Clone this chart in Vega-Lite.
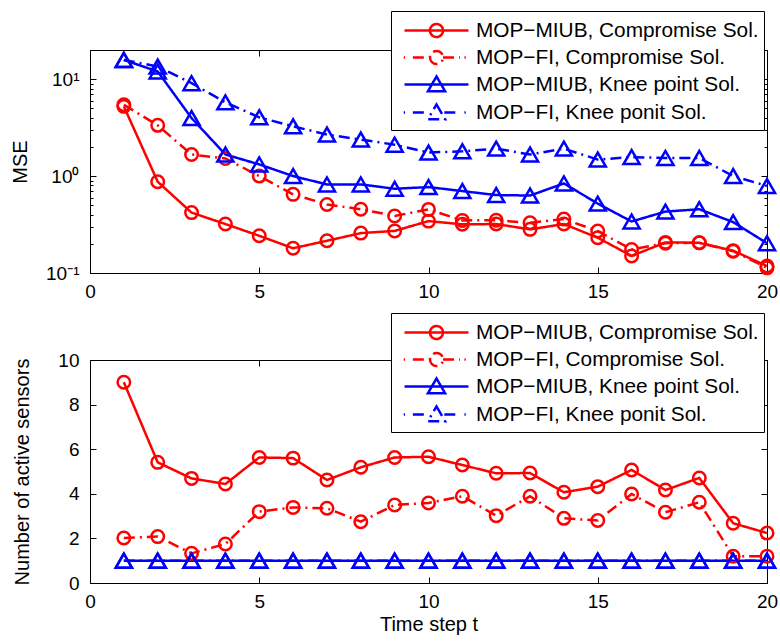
{
  "$schema": "https://vega.github.io/schema/vega-lite/v6.json",
  "padding": {"left": 10, "top": 10, "right": 5, "bottom": 5},
  "background": "white",
  "config": {
    "font": "Liberation Sans",
    "view": {"stroke": "black", "strokeWidth": 1},
    "axis": {"domain": false, "grid": false, "tickColor": "black", "labelColor": "black", "titleColor": "black", "labelFontSize": 19, "titleFontSize": 20, "titleFontWeight": "normal", "tickSize": -6, "tickWidth": 1, "labelFlush": false, "labelOverlap": false, "labelFont": "Liberation Sans", "titleFont": "Liberation Sans"},
    "legend": {"labelFont": "Liberation Sans", "labelFontSize": 20.8, "labelColor": "black", "strokeColor": "black", "fillColor": "white", "padding": 5, "rowPadding": 1, "symbolSize": 676, "symbolStrokeWidth": 2.5, "symbolOffset": 26, "labelOffset": 25, "labelLimit": 400, "cornerRadius": 0}
  },
  "datasets": {
    "d": [
      {"t":1,"s":"MOP−MIUB, Compromise Sol.","mse":5.24,"n":9.0},
      {"t":2,"s":"MOP−MIUB, Compromise Sol.","mse":0.875,"n":5.41},
      {"t":3,"s":"MOP−MIUB, Compromise Sol.","mse":0.42,"n":4.69},
      {"t":4,"s":"MOP−MIUB, Compromise Sol.","mse":0.32,"n":4.44},
      {"t":5,"s":"MOP−MIUB, Compromise Sol.","mse":0.242,"n":5.63},
      {"t":6,"s":"MOP−MIUB, Compromise Sol.","mse":0.18,"n":5.6},
      {"t":7,"s":"MOP−MIUB, Compromise Sol.","mse":0.215,"n":4.62},
      {"t":8,"s":"MOP−MIUB, Compromise Sol.","mse":0.258,"n":5.19},
      {"t":9,"s":"MOP−MIUB, Compromise Sol.","mse":0.272,"n":5.63},
      {"t":10,"s":"MOP−MIUB, Compromise Sol.","mse":0.343,"n":5.66},
      {"t":11,"s":"MOP−MIUB, Compromise Sol.","mse":0.318,"n":5.29},
      {"t":12,"s":"MOP−MIUB, Compromise Sol.","mse":0.32,"n":4.92},
      {"t":13,"s":"MOP−MIUB, Compromise Sol.","mse":0.282,"n":4.93},
      {"t":14,"s":"MOP−MIUB, Compromise Sol.","mse":0.32,"n":4.07},
      {"t":15,"s":"MOP−MIUB, Compromise Sol.","mse":0.231,"n":4.32},
      {"t":16,"s":"MOP−MIUB, Compromise Sol.","mse":0.15,"n":5.07},
      {"t":17,"s":"MOP−MIUB, Compromise Sol.","mse":0.207,"n":4.17},
      {"t":18,"s":"MOP−MIUB, Compromise Sol.","mse":0.205,"n":4.71},
      {"t":19,"s":"MOP−MIUB, Compromise Sol.","mse":0.17,"n":2.68},
      {"t":20,"s":"MOP−MIUB, Compromise Sol.","mse":0.118,"n":2.24},
      {"t":1,"s":"MOP−FI, Compromise Sol.","mse":5.45,"n":2.02},
      {"t":2,"s":"MOP−FI, Compromise Sol.","mse":3.34,"n":2.08},
      {"t":3,"s":"MOP−FI, Compromise Sol.","mse":1.67,"n":1.33},
      {"t":4,"s":"MOP−FI, Compromise Sol.","mse":1.52,"n":1.75},
      {"t":5,"s":"MOP−FI, Compromise Sol.","mse":1.0,"n":3.2},
      {"t":6,"s":"MOP−FI, Compromise Sol.","mse":0.648,"n":3.39},
      {"t":7,"s":"MOP−FI, Compromise Sol.","mse":0.51,"n":3.35},
      {"t":8,"s":"MOP−FI, Compromise Sol.","mse":0.455,"n":2.75},
      {"t":9,"s":"MOP−FI, Compromise Sol.","mse":0.388,"n":3.5},
      {"t":10,"s":"MOP−FI, Compromise Sol.","mse":0.453,"n":3.59},
      {"t":11,"s":"MOP−FI, Compromise Sol.","mse":0.349,"n":3.89},
      {"t":12,"s":"MOP−FI, Compromise Sol.","mse":0.35,"n":3.02},
      {"t":13,"s":"MOP−FI, Compromise Sol.","mse":0.33,"n":3.89},
      {"t":14,"s":"MOP−FI, Compromise Sol.","mse":0.36,"n":2.9},
      {"t":15,"s":"MOP−FI, Compromise Sol.","mse":0.271,"n":2.8},
      {"t":16,"s":"MOP−FI, Compromise Sol.","mse":0.175,"n":3.99},
      {"t":17,"s":"MOP−FI, Compromise Sol.","mse":0.203,"n":3.17},
      {"t":18,"s":"MOP−FI, Compromise Sol.","mse":0.205,"n":3.62},
      {"t":19,"s":"MOP−FI, Compromise Sol.","mse":0.168,"n":1.2},
      {"t":20,"s":"MOP−FI, Compromise Sol.","mse":0.113,"n":1.2},
      {"t":1,"s":"MOP−MIUB, Knee point Sol.","mse":15.8,"n":1},
      {"t":2,"s":"MOP−MIUB, Knee point Sol.","mse":12.0,"n":1},
      {"t":3,"s":"MOP−MIUB, Knee point Sol.","mse":3.97,"n":1},
      {"t":4,"s":"MOP−MIUB, Knee point Sol.","mse":1.67,"n":1},
      {"t":5,"s":"MOP−MIUB, Knee point Sol.","mse":1.32,"n":1},
      {"t":6,"s":"MOP−MIUB, Knee point Sol.","mse":1.0,"n":1},
      {"t":7,"s":"MOP−MIUB, Knee point Sol.","mse":0.82,"n":1},
      {"t":8,"s":"MOP−MIUB, Knee point Sol.","mse":0.82,"n":1},
      {"t":9,"s":"MOP−MIUB, Knee point Sol.","mse":0.74,"n":1},
      {"t":10,"s":"MOP−MIUB, Knee point Sol.","mse":0.77,"n":1},
      {"t":11,"s":"MOP−MIUB, Knee point Sol.","mse":0.70,"n":1},
      {"t":12,"s":"MOP−MIUB, Knee point Sol.","mse":0.637,"n":1},
      {"t":13,"s":"MOP−MIUB, Knee point Sol.","mse":0.63,"n":1},
      {"t":14,"s":"MOP−MIUB, Knee point Sol.","mse":0.84,"n":1},
      {"t":15,"s":"MOP−MIUB, Knee point Sol.","mse":0.52,"n":1},
      {"t":16,"s":"MOP−MIUB, Knee point Sol.","mse":0.34,"n":1},
      {"t":17,"s":"MOP−MIUB, Knee point Sol.","mse":0.43,"n":1},
      {"t":18,"s":"MOP−MIUB, Knee point Sol.","mse":0.455,"n":1},
      {"t":19,"s":"MOP−MIUB, Knee point Sol.","mse":0.335,"n":1},
      {"t":20,"s":"MOP−MIUB, Knee point Sol.","mse":0.203,"n":1},
      {"t":1,"s":"MOP−FI, Knee ponit Sol.","mse":15.8,"n":1},
      {"t":2,"s":"MOP−FI, Knee ponit Sol.","mse":13.5,"n":1},
      {"t":3,"s":"MOP−FI, Knee ponit Sol.","mse":9.1,"n":1},
      {"t":4,"s":"MOP−FI, Knee ponit Sol.","mse":5.76,"n":1},
      {"t":5,"s":"MOP−FI, Knee ponit Sol.","mse":4.04,"n":1},
      {"t":6,"s":"MOP−FI, Knee ponit Sol.","mse":3.26,"n":1},
      {"t":7,"s":"MOP−FI, Knee ponit Sol.","mse":2.68,"n":1},
      {"t":8,"s":"MOP−FI, Knee ponit Sol.","mse":2.38,"n":1},
      {"t":9,"s":"MOP−FI, Knee ponit Sol.","mse":2.11,"n":1},
      {"t":10,"s":"MOP−FI, Knee ponit Sol.","mse":1.75,"n":1},
      {"t":11,"s":"MOP−FI, Knee ponit Sol.","mse":1.8,"n":1},
      {"t":12,"s":"MOP−FI, Knee ponit Sol.","mse":1.92,"n":1},
      {"t":13,"s":"MOP−FI, Knee ponit Sol.","mse":1.67,"n":1},
      {"t":14,"s":"MOP−FI, Knee ponit Sol.","mse":1.92,"n":1},
      {"t":15,"s":"MOP−FI, Knee ponit Sol.","mse":1.48,"n":1},
      {"t":16,"s":"MOP−FI, Knee ponit Sol.","mse":1.57,"n":1},
      {"t":17,"s":"MOP−FI, Knee ponit Sol.","mse":1.54,"n":1},
      {"t":18,"s":"MOP−FI, Knee ponit Sol.","mse":1.54,"n":1},
      {"t":19,"s":"MOP−FI, Knee ponit Sol.","mse":1.0,"n":1},
      {"t":20,"s":"MOP−FI, Knee ponit Sol.","mse":0.79,"n":1}
    ]
  },
  "vconcat": [
    {
      "width": 677,
      "height": 223,
      "data": {"name": "d"},
      "layer": [
        {
          "mark": {"type": "line", "strokeWidth": 2.5},
          "encoding": {
            "x": {"field": "t", "type": "quantitative", "scale": {"domain": [0, 20], "nice": false}, "axis": {"orient": "bottom", "values": [0, 5, 10, 15, 20], "title": null, "ticks": false, "labelPadding": 9}},
            "y": {"field": "mse", "type": "quantitative", "scale": {"type": "log", "domain": [0.1, 20], "nice": false}, "axis": {"orient": "left", "values": [0.1, 1, 10], "title": "MSE", "titlePadding": 15, "ticks": false, "labelPadding": 11, "labelExpr": "datum.value > 5 ? '10¹' : datum.value > 0.5 ? '10⁰' : '10⁻¹'"}},
            "color": {"field": "s", "type": "nominal", "sort": null, "scale": {"domain": ["MOP−MIUB, Compromise Sol.", "MOP−FI, Compromise Sol.", "MOP−MIUB, Knee point Sol.", "MOP−FI, Knee ponit Sol."], "range": ["#ff0000", "#ff0000", "#0000ff", "#0000ff"]},
              "legend": {"orient": "none", "legendX": 301, "legendY": -39, "title": null,
                "encode": {"symbols": {"update": {
                  "shape": {"signal": "indexof(datum.value,'Knee')>=0 ? (indexof(datum.value,'FI,')>=0 ? 'M-2.52,0L-2.42,0M-1.82,0L-0.6,0M0.6,0L1.8,0M2.15,0L2.25,0M0,-0.62L0.66,0.52L-0.66,0.52Z' : 'M-2.46,0L2.46,0M0,-0.62L0.66,0.52L-0.66,0.52Z') : (indexof(datum.value,'FI,')>=0 ? 'M-2.52,0L-2.42,0M-1.82,0L-0.5,0M0.5,0L1.8,0M2.15,0L2.25,0M-0.5,0A0.5,0.5 0 1,0 0.5,0A0.5,0.5 0 1,0 -0.5,0' : 'M-2.46,0L2.46,0M-0.5,0A0.5,0.5 0 1,0 0.5,0A0.5,0.5 0 1,0 -0.5,0')"},
                  "fill": {"value": "transparent"},
                  "strokeWidth": {"value": 2.5},
                  "strokeDash": {"value": [1, 0]}
                }}}}},
            "strokeDash": {"field": "s", "type": "nominal", "sort": null, "scale": {"domain": ["MOP−MIUB, Compromise Sol.", "MOP−FI, Compromise Sol.", "MOP−MIUB, Knee point Sol.", "MOP−FI, Knee ponit Sol."], "range": [[1, 0], [11, 5, 2, 5], [1, 0], [11, 5, 2, 5]]}, "legend": null}
          }
        },
        {
          "transform": [{"filter": "indexof(datum.s,'Compromise')>=0"}],
          "mark": {"type": "point", "shape": "circle", "filled": false, "strokeWidth": 2.5, "size": 156, "opacity": 1},
          "encoding": {
            "x": {"field": "t", "type": "quantitative", "scale": {"domain": [0, 20], "nice": false}, "axis": {"orient": "top", "values": [0, 5, 10, 15, 20], "labels": false, "title": null}},
            "y": {"field": "mse", "type": "quantitative", "scale": {"type": "log", "domain": [0.1, 20], "nice": false}, "axis": {"orient": "right", "values": [0.1, 1, 10], "labels": false, "title": null}},
            "color": {"field": "s", "type": "nominal", "sort": null}
          }
        },
        {
          "transform": [{"filter": "indexof(datum.s,'Knee')>=0"}],
          "mark": {"type": "point", "shape": "triangle-up", "filled": false, "strokeWidth": 2.5, "size": 260, "opacity": 1},
          "encoding": {
            "x": {"field": "t", "type": "quantitative", "scale": {"domain": [0, 20], "nice": false}, "axis": {"orient": "bottom", "values": [0, 5, 10, 15, 20], "labels": false, "title": null}},
            "y": {"field": "mse", "type": "quantitative", "scale": {"type": "log", "domain": [0.1, 20], "nice": false}, "axis": {"orient": "left", "values": [0.1, 1, 10], "labels": false, "title": null}},
            "color": {"field": "s", "type": "nominal", "sort": null}
          }
        },
        {
          "transform": [{"filter": "datum.t == 1"}],
          "mark": {"type": "point", "opacity": 0},
          "encoding": {
            "x": {"field": "t", "type": "quantitative", "scale": {"domain": [0, 20], "nice": false}, "axis": null},
            "y": {"field": "mse", "type": "quantitative", "scale": {"type": "log", "domain": [0.1, 20], "nice": false}, "axis": {"orient": "left", "values": [0.2, 0.3, 0.4, 0.5, 0.6, 0.7, 0.8, 0.9, 2, 3, 4, 5, 6, 7, 8, 9, 20], "labels": false, "title": null, "tickSize": -3}}
          }
        },
        {
          "transform": [{"filter": "datum.t == 1"}],
          "mark": {"type": "point", "opacity": 0},
          "encoding": {
            "x": {"field": "t", "type": "quantitative", "scale": {"domain": [0, 20], "nice": false}, "axis": null},
            "y": {"field": "mse", "type": "quantitative", "scale": {"type": "log", "domain": [0.1, 20], "nice": false}, "axis": {"orient": "right", "values": [0.2, 0.3, 0.4, 0.5, 0.6, 0.7, 0.8, 0.9, 2, 3, 4, 5, 6, 7, 8, 9, 20], "labels": false, "title": null, "tickSize": -3}}
          }
        }
      ]
    },
    {
      "width": 677,
      "height": 223,
      "data": {"name": "d"},
      "layer": [
        {
          "mark": {"type": "line", "strokeWidth": 2.5},
          "encoding": {
            "x": {"field": "t", "type": "quantitative", "scale": {"domain": [0, 20], "nice": false}, "axis": {"orient": "bottom", "values": [0, 5, 10, 15, 20], "title": "Time step t", "titlePadding": 3, "ticks": false, "labelPadding": 9}},
            "y": {"field": "n", "type": "quantitative", "scale": {"domain": [0, 10], "nice": false}, "axis": {"orient": "left", "values": [0, 2, 4, 6, 8, 10], "title": "Number of active sensors", "titlePadding": 25, "ticks": false, "labelPadding": 11}},
            "color": {"field": "s", "type": "nominal", "sort": null, "scale": {"domain": ["MOP−MIUB, Compromise Sol.", "MOP−FI, Compromise Sol.", "MOP−MIUB, Knee point Sol.", "MOP−FI, Knee ponit Sol."], "range": ["#ff0000", "#ff0000", "#0000ff", "#0000ff"]},
              "legend": {"orient": "none", "legendX": 301, "legendY": -47, "title": null,
                "encode": {"symbols": {"update": {
                  "shape": {"signal": "indexof(datum.value,'Knee')>=0 ? (indexof(datum.value,'FI,')>=0 ? 'M-2.52,0L-2.42,0M-1.82,0L-0.6,0M0.6,0L1.8,0M2.15,0L2.25,0M0,-0.62L0.66,0.52L-0.66,0.52Z' : 'M-2.46,0L2.46,0M0,-0.62L0.66,0.52L-0.66,0.52Z') : (indexof(datum.value,'FI,')>=0 ? 'M-2.52,0L-2.42,0M-1.82,0L-0.5,0M0.5,0L1.8,0M2.15,0L2.25,0M-0.5,0A0.5,0.5 0 1,0 0.5,0A0.5,0.5 0 1,0 -0.5,0' : 'M-2.46,0L2.46,0M-0.5,0A0.5,0.5 0 1,0 0.5,0A0.5,0.5 0 1,0 -0.5,0')"},
                  "fill": {"value": "transparent"},
                  "strokeWidth": {"value": 2.5},
                  "strokeDash": {"value": [1, 0]}
                }}}}},
            "strokeDash": {"field": "s", "type": "nominal", "sort": null, "scale": {"domain": ["MOP−MIUB, Compromise Sol.", "MOP−FI, Compromise Sol.", "MOP−MIUB, Knee point Sol.", "MOP−FI, Knee ponit Sol."], "range": [[1, 0], [11, 5, 2, 5], [1, 0], [11, 5, 2, 5]]}, "legend": null}
          }
        },
        {
          "transform": [{"filter": "indexof(datum.s,'Compromise')>=0"}],
          "mark": {"type": "point", "shape": "circle", "filled": false, "strokeWidth": 2.5, "size": 156, "opacity": 1},
          "encoding": {
            "x": {"field": "t", "type": "quantitative", "scale": {"domain": [0, 20], "nice": false}, "axis": {"orient": "top", "values": [0, 5, 10, 15, 20], "labels": false, "title": null}},
            "y": {"field": "n", "type": "quantitative", "scale": {"domain": [0, 10], "nice": false}, "axis": {"orient": "right", "values": [0, 2, 4, 6, 8, 10], "labels": false, "title": null}},
            "color": {"field": "s", "type": "nominal", "sort": null}
          }
        },
        {
          "transform": [{"filter": "indexof(datum.s,'Knee')>=0"}],
          "mark": {"type": "point", "shape": "triangle-up", "filled": false, "strokeWidth": 2.5, "size": 260, "opacity": 1},
          "encoding": {
            "x": {"field": "t", "type": "quantitative", "scale": {"domain": [0, 20], "nice": false}, "axis": {"orient": "bottom", "values": [0, 5, 10, 15, 20], "labels": false, "title": null}},
            "y": {"field": "n", "type": "quantitative", "scale": {"domain": [0, 10], "nice": false}, "axis": {"orient": "left", "values": [0, 2, 4, 6, 8, 10], "labels": false, "title": null}},
            "color": {"field": "s", "type": "nominal", "sort": null}
          }
        }
      ]
    }
  ],
  "spacing": 87,
  "bounds": "flush",
  "resolve": {"scale": {"color": "independent", "strokeDash": "independent"}, "legend": {"color": "independent"}}
}
